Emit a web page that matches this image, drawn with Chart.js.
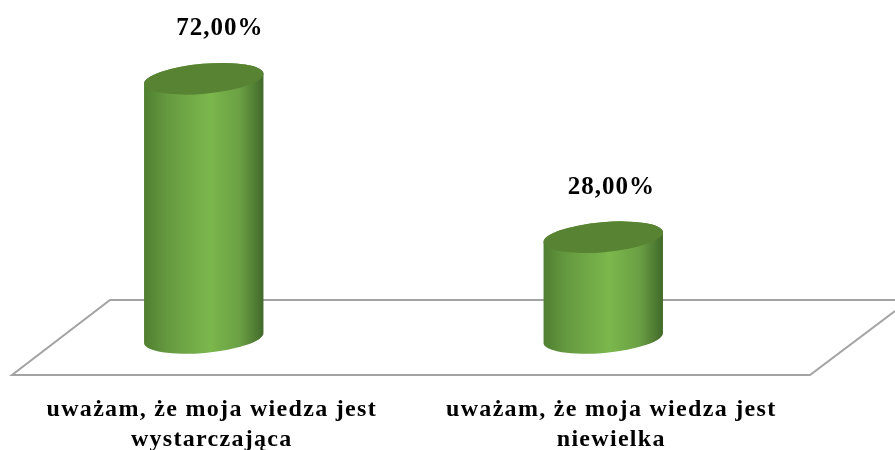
<!DOCTYPE html>
<html>
<head>
<meta charset="utf-8">
<style>
  html, body { margin: 0; background: #fff; }
  #wrap { width: 895px; height: 450px; }
</style>
<script src="https://cdn.jsdelivr.net/npm/chart.js@4/dist/chart.umd.min.js"></script>
</head>
<body>
<div id="wrap"><canvas id="chart"></canvas></div>
<script>
const categories = [
  ['uważam, że moja wiedza jest', 'wystarczająca'],
  ['uważam, że moja wiedza jest', 'niewielka']
]
const values = [72, 28]

const font = '"Liberation Serif", "Times New Roman", serif'
const formatValue = v => v.toFixed(2).replace('.', ',') + '%'

// flat floor under the bars, hangs off the chart area
const floorPlugin = {
  id: 'floor',
  beforeDraw(chart) {
    // tick labels in the reference are spaced out, the axis has no option for it
    chart.ctx.letterSpacing = '1.3px'
  },
  beforeDatasetsDraw(chart) {
    const { ctx, chartArea: a } = chart
    const front = a.bottom + 37
    const back = a.bottom - 38
    ctx.save()
    ctx.strokeStyle = '#a3a3a3'
    ctx.lineWidth = 2
    ctx.beginPath()
    ctx.moveTo(chart.width, back)
    ctx.lineTo(a.left + 106, back)
    ctx.lineTo(a.left + 8, front)
    ctx.lineTo(a.right + 7, front)
    ctx.lineTo(chart.width, back + 11)
    ctx.stroke()
    ctx.restore()
  }
}

// draws each bar as a tilted cylinder from the bar element's own geometry
const cylinderPlugin = {
  id: 'cylinder',
  afterDatasetsDraw(chart) {
    const { ctx } = chart
    const tilt = -5 * Math.PI / 180
    const ry = 15
    chart.getDatasetMeta(0).data.forEach(bar => {
      const rx = bar.width / 2
      const left = bar.x - rx
      const right = bar.x + rx

      const side = ctx.createLinearGradient(left, 0, right, 0)
      side.addColorStop(0, '#4f7f30')
      side.addColorStop(0.2, '#669a40')
      side.addColorStop(0.55, '#7ab74c')
      side.addColorStop(0.8, '#6ba044')
      side.addColorStop(1, '#41692a')

      ctx.save()
      ctx.beginPath()
      ctx.ellipse(bar.x, bar.y, rx, ry, tilt, Math.PI, 0, false)
      ctx.ellipse(bar.x, bar.base, rx, ry, tilt, 0, Math.PI, false)
      ctx.closePath()
      ctx.fillStyle = side
      ctx.fill()

      ctx.beginPath()
      ctx.ellipse(bar.x, bar.y, rx, ry, tilt, 0, Math.PI * 2)
      ctx.fillStyle = '#578333'
      ctx.fill()
      ctx.restore()
    })
  }
}

const valueLabelPlugin = {
  id: 'valueLabels',
  afterDraw(chart, args, opts) {
    const { ctx } = chart
    ctx.save()
    ctx.font = 'bold 25px ' + font
    ctx.fillStyle = '#000'
    ctx.textAlign = 'center'
    ctx.textBaseline = 'middle'
    ctx.letterSpacing = '1px'
    chart.getDatasetMeta(0).data.forEach((bar, i) => {
      ctx.fillText(formatValue(values[i]), bar.x + opts.shift[i], bar.y - 50)
    })
    ctx.restore()
  }
}

new Chart(document.getElementById('chart'), {
  type: 'bar',
  data: {
    labels: categories,
    datasets: [{
      data: values,
      backgroundColor: 'transparent',
      barPercentage: 0.3,
      categoryPercentage: 1
    }]
  },
  options: {
    responsive: true,
    maintainAspectRatio: false,
    animation: false,
    layout: { padding: { left: 4, right: 92, top: 50, bottom: 0 } },
    plugins: {
      legend: { display: false },
      tooltip: { enabled: false },
      valueLabels: { shift: [16, 8] }
    },
    scales: {
      y: { display: false, min: 0, max: 80 },
      x: {
        grid: { display: false, drawTicks: false },
        border: { display: false },
        afterFit(scale) {
          scale.height = 112
          // long labels would otherwise push the chart area in
          scale.paddingLeft = 0
          scale.paddingRight = 0
        },
        ticks: {
          color: '#000',
          font: { family: font, size: 24, weight: 'bold', lineHeight: 1.25 },
          padding: 57,
          labelOffset: 8,
          maxRotation: 0,
          autoSkip: false
        }
      }
    }
  },
  plugins: [floorPlugin, cylinderPlugin, valueLabelPlugin]
})
</script>
</body>
</html>
